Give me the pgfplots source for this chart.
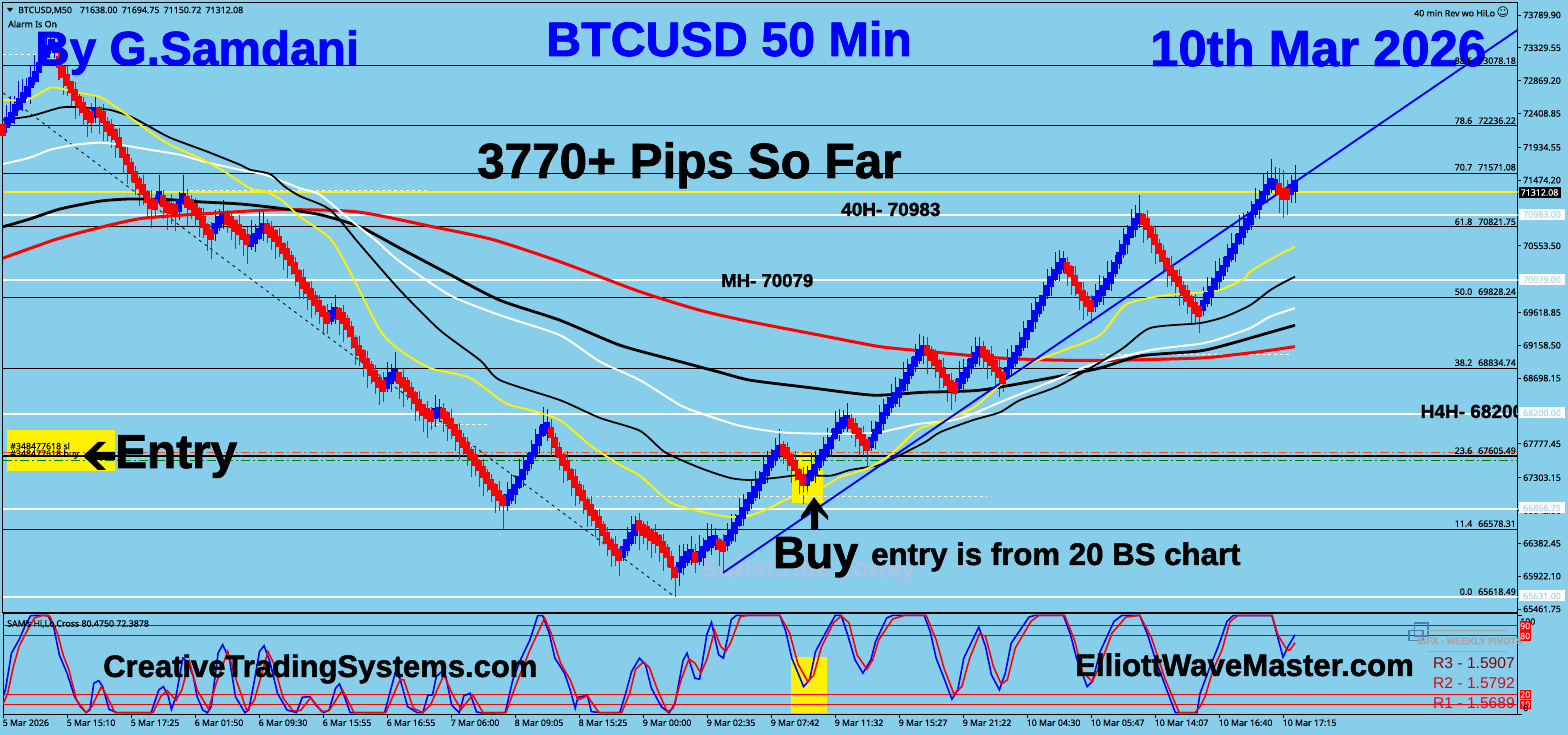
\documentclass[border=0pt]{standalone}
\usepackage{fontspec}
\usepackage{pgfplots}
\usepackage{pgfplotstable}
\pgfplotsset{compat=1.18}
\setmainfont{Noto Sans}[FakeBold=0.25]
\newfontfamily\arialf{Liberation Sans}[BoldFeatures={FakeBold=1.6}]
\newfontfamily\djv{DejaVu Sans}
\newcommand{\A}[1]{\arialf\bfseries\fontsize{#1}{#1}\selectfont}
\newcommand{\U}{\fontsize{8.8}{9}\selectfont}
\definecolor{bg}{HTML}{87CEEB}
\definecolor{tagtxt}{HTML}{ADD8E6}
\definecolor{logo}{HTML}{4682B4}
\definecolor{wm}{HTML}{A9C5E6}
\pgfplotstableread{
x p u d
7 72280 250 150
11 72350 300 120
15 72460 200 200
19 72540 320 90
23 72630 260 180
27 72720 180 130
31 72840 250 300
35 72930 300 120
39 73050 200 200
43 73160 320 90
47 73270 260 180
51 73370 180 130
55 73330 150 150
95 72420 250 150
159 71240 300 120
179 71110 200 200
183 71220 320 90
215 70800 260 180
219 70890 180 130
223 70940 250 150
251 70620 300 120
255 70660 200 200
259 70730 320 90
263 70800 260 180
331 69570 180 130
335 69610 250 150
387 68630 300 120
391 68700 200 200
395 68740 320 90
435 68200 260 180
439 68220 180 130
507 66990 250 150
511 67060 300 120
515 67140 200 200
519 67240 320 90
523 67350 260 180
527 67470 180 130
531 67580 250 150
535 67690 300 120
539 67830 200 200
543 67970 320 90
547 68000 260 180
623 66260 180 130
627 66360 250 150
631 66460 300 120
635 66570 200 200
679 66040 320 250
683 66120 260 180
687 66190 180 130
691 66230 250 150
699 66200 300 120
703 66260 200 200
707 66350 320 90
711 66400 260 180
715 66420 180 130
727 66420 250 150
731 66500 300 120
735 66600 200 200
739 66700 320 90
743 66810 260 180
747 66920 180 130
751 67020 250 150
755 67100 300 120
759 67200 200 200
763 67300 320 90
767 67410 260 180
771 67520 180 130
775 67610 250 150
779 67680 300 120
807 67270 200 200
811 67330 320 90
815 67410 260 180
819 67520 180 130
823 67620 250 150
827 67700 300 120
831 67790 200 200
835 67920 320 90
839 68000 260 180
843 68070 180 130
847 68100 250 150
871 67800 300 120
875 67900 200 200
879 68000 320 90
883 68140 260 180
887 68250 180 130
891 68360 250 150
895 68420 300 120
899 68500 200 200
903 68600 320 90
907 68700 260 180
911 68810 180 130
915 68930 250 150
919 69020 300 120
923 69090 200 200
959 68620 320 90
963 68700 260 180
967 68780 180 130
971 68900 250 150
975 68980 300 120
979 69070 200 200
1007 68780 320 90
1011 68900 260 180
1015 68980 180 130
1019 69090 250 150
1023 69200 300 120
1027 69320 200 200
1031 69430 320 90
1035 69570 260 180
1039 69680 180 130
1043 69790 250 150
1047 69930 300 120
1051 70050 200 200
1055 70150 320 90
1059 70240 260 180
1063 70300 180 130
1095 69770 250 150
1099 69850 300 120
1103 69930 200 200
1107 70020 320 90
1111 70100 260 180
1115 70240 180 130
1119 70380 250 150
1123 70500 300 120
1127 70640 200 200
1131 70750 320 90
1135 70860 260 180
1139 70940 330 130
1203 69720 250 150
1207 69820 300 120
1211 69910 200 200
1215 70020 320 90
1219 70120 260 180
1223 70210 180 130
1227 70330 250 150
1231 70440 300 120
1235 70520 200 200
1239 70660 320 90
1243 70750 260 180
1247 70860 180 130
1251 70930 250 150
1255 71060 300 120
1259 71130 200 200
1263 71240 320 90
1267 71340 260 180
1271 71430 340 130
1275 71410 250 150
1291 71340 200 180
1295 71390 300 240
}\upbars
\pgfplotstableread{
x p u d
3 72180 150 250
59 73130 150 250
63 72990 100 320
67 72880 200 220
71 72780 90 300
75 72670 180 340
79 72570 130 200
83 72490 150 250
87 72400 100 320
91 72360 200 220
99 72420 90 300
103 72360 180 340
107 72230 130 200
111 72180 150 250
115 72110 100 320
119 72000 200 220
123 71860 90 300
127 71760 180 340
131 71650 130 200
135 71520 150 250
139 71430 100 320
143 71340 200 220
147 71240 90 300
151 71150 180 340
155 71130 130 200
163 71180 150 250
167 71100 100 320
171 71080 200 220
175 71060 90 300
187 71170 180 340
191 71130 130 200
195 71070 150 250
199 71000 100 320
203 70890 200 220
207 70780 90 300
211 70710 180 340
227 70930 130 200
231 70890 150 250
235 70830 100 320
239 70780 200 220
243 70710 90 300
247 70640 180 340
267 70800 130 200
271 70750 150 250
275 70690 100 320
279 70610 200 220
283 70520 90 300
287 70440 180 340
291 70350 130 200
295 70240 150 250
299 70130 100 320
303 70030 200 220
307 69960 90 300
311 69880 180 340
315 69790 130 200
319 69710 150 250
323 69630 100 320
327 69540 200 220
339 69600 90 300
343 69540 180 340
347 69460 130 200
351 69350 150 250
355 69200 100 320
359 69090 200 220
363 69010 90 300
367 68900 180 340
371 68810 130 200
375 68730 150 250
379 68640 100 320
383 68590 200 220
399 68700 90 300
403 68640 180 340
407 68590 130 200
411 68500 150 250
415 68420 100 320
419 68320 200 220
423 68250 90 300
427 68200 180 340
431 68170 130 200
443 68200 150 250
447 68140 100 320
451 68060 200 220
455 67970 90 300
459 67890 180 340
463 67800 130 200
467 67720 150 250
471 67630 100 320
475 67550 200 220
479 67470 90 300
483 67380 180 340
487 67300 130 200
491 67210 150 250
495 67130 100 320
499 67050 200 220
503 66980 90 400
551 67940 180 340
555 67800 130 200
559 67660 150 250
563 67550 100 320
567 67470 200 220
571 67350 90 300
575 67240 180 340
579 67130 130 200
583 67050 150 250
587 66930 100 320
591 66850 200 220
595 66770 90 300
599 66680 180 340
603 66570 130 200
607 66460 150 250
611 66370 100 320
615 66290 200 220
619 66220 90 300
639 66630 180 340
643 66570 130 200
647 66540 150 250
651 66500 100 320
655 66460 200 220
659 66420 90 300
663 66330 180 340
667 66250 130 200
671 66120 150 250
675 65970 100 340
695 66180 200 220
719 66370 90 300
723 66340 180 340
783 67690 130 200
787 67650 150 250
791 67550 100 320
795 67470 200 220
799 67350 90 300
803 67270 180 340
851 68060 130 200
855 67990 150 250
859 67920 100 320
863 67830 200 220
867 67760 90 300
927 69090 180 340
931 69020 130 200
935 68950 150 250
939 68870 100 320
943 68780 200 220
947 68670 90 300
951 68590 180 340
955 68560 130 200
983 69070 150 250
987 69010 100 320
991 68950 200 220
995 68870 90 300
999 68780 180 340
1003 68700 130 200
1067 70240 150 250
1071 70190 100 320
1075 70070 200 220
1079 69960 90 300
1083 69860 180 340
1087 69770 130 200
1091 69710 150 250
1143 70920 100 320
1147 70860 200 220
1151 70750 90 300
1155 70640 180 340
1159 70520 130 200
1163 70410 150 250
1167 70300 100 320
1171 70210 200 220
1175 70130 90 300
1179 70050 180 340
1183 69930 130 200
1187 69850 150 250
1191 69770 100 320
1195 69680 200 220
1199 69630 90 300
1279 71350 300 340
1283 71280 340 340
1287 71280 200 300
}\downbars
\begin{document}
\begin{tikzpicture}
\useasboundingbox (0,0) rectangle (1568pt,735pt);
\fill[bg] (0,0) rectangle (1568pt,735pt);
\begin{scope}[x=1pt,y=-1pt,yshift=735pt]
\fill[yellow] (7,430) rectangle (115,471);
\fill[yellow] (797,452) -- (813,452) -- (813,470) -- (823,470) -- (823,503) -- (792,503) -- (792,470) -- (797,470) -- cycle;
\fill[yellow] (791,657) rectangle (827,713);
\node[anchor=base west,inner sep=0,text=wm] at (700,577) {\A{27}Subscribe Today};
\end{scope}
\begin{axis}[
 name=main, anchor=south west, at={(3pt,122.5pt)}, scale only axis,
 width=1514.5pt, height=610pt,
 xmin=3, xmax=1517.5, ymin=65412.8, ymax=73965,
 axis line style={line width=1pt},
 xtick=\empty, ytick pos=right, yticklabel pos=right, tick align=outside,
 major tick length=3pt, tick style={black,line width=.8pt},
 ytick={73789.90,73329.55,72869.20,72408.85,71934.55,71474.20,70553.50,69618.85,69158.50,68698.15,67777.45,67303.15,66842.80,66382.45,65922.10,65461.75},
 scaled y ticks=false,
 yticklabel style={font=\U,inner xsep=0pt,xshift=2.5pt,/pgf/number format/.cd,fixed,fixed zerofill,precision=2,1000 sep={},assume math mode=true},
]
% fib levels
\addplot[black,line width=1.2pt,forget plot] coordinates {(3,73078.18)(1517.5,73078.18)};
\addplot[black,line width=1.2pt,forget plot] coordinates {(3,72236.22)(1517.5,72236.22)};
\addplot[black,line width=1.2pt,forget plot] coordinates {(3,71571.08)(1517.5,71571.08)};
\addplot[black,line width=1.2pt,forget plot] coordinates {(3,70821.75)(1517.5,70821.75)};
\addplot[black,line width=1.2pt,forget plot] coordinates {(3,69828.24)(1517.5,69828.24)};
\addplot[black,line width=1.2pt,forget plot] coordinates {(3,68834.74)(1517.5,68834.74)};
\addplot[black,line width=1.2pt,forget plot] coordinates {(3,67605.49)(1517.5,67605.49)};
\addplot[black,line width=1.2pt,forget plot] coordinates {(3,66578.31)(1517.5,66578.31)};
\addplot[black,line width=1.2pt,forget plot] coordinates {(3,65618.49)(1517.5,65618.49)};
% levels
\addplot[white,line width=2.2pt,forget plot] coordinates {(3,70983)(1517.5,70983)};
\addplot[white,line width=2.2pt,forget plot] coordinates {(3,70079)(1517.5,70079)};
\addplot[white,line width=2.2pt,forget plot] coordinates {(3,68200)(1517.5,68200)};
\addplot[white,line width=2.2pt,forget plot] coordinates {(3,66866.75)(1517.5,66866.75)};
\addplot[white,line width=2.2pt,forget plot] coordinates {(3,65631)(1517.5,65631)};
\addplot[yellow,line width=2pt,forget plot] coordinates {(3,71312.08)(1517.5,71312.08)};
\addplot[orange!60!red,line width=1.2pt,dash pattern=on 9pt off 3pt on 2pt off 3pt,forget plot] coordinates {(3,67659)(1517.5,67659)};
\addplot[green!50!black,line width=1.2pt,dash pattern=on 9pt off 3pt on 2pt off 3pt,forget plot] coordinates {(3,67547)(1517.5,67547)};
% dashed
\addplot[white,line width=1pt,dash pattern=on 3pt off 3pt,forget plot] coordinates {(3,73229)(63,73229)};
\addplot[white,line width=1pt,dash pattern=on 3pt off 3pt,forget plot] coordinates {(190,71329)(428,71329)};
\addplot[white,line width=1pt,dash pattern=on 3pt off 3pt,forget plot] coordinates {(1100,69033)(1292,69033)};
\addplot[white,line width=1pt,dash pattern=on 3pt off 3pt,forget plot] coordinates {(430,68042)(490,68042)};
\addplot[white,line width=1pt,dash pattern=on 3pt off 3pt,forget plot] coordinates {(590,67040)(987,67040)};
\addplot[black,line width=.8pt,dash pattern=on 3pt off 4pt,forget plot] coordinates {(3,72696)(675,65630)};
% candles
\addplot[only marks,mark=none,forget plot,error bars/.cd,y dir=both,y explicit,error mark=none,error bar style={blue,line width=1pt}] table[x=x,y=p,y error plus=u,y error minus=d] {\upbars};
\addplot[only marks,mark=none,forget plot,error bars/.cd,y dir=both,y explicit,error mark=none,error bar style={red,line width=1pt}] table[x=x,y=p,y error plus=u,y error minus=d] {\downbars};
\addplot[only marks,mark=square*,mark size=5.2pt,mark options={solid,xscale=.55,draw=blue,fill=blue,line width=0pt},forget plot] table[x=x,y=p] {\upbars};
\addplot[only marks,mark=square*,mark size=5.2pt,mark options={solid,xscale=.55,draw=red,fill=red,line width=0pt},forget plot] table[x=x,y=p] {\downbars};
% moving averages
\addplot[red,line width=3pt,smooth,tension=.4,forget plot] coordinates {(3,70380)(55,70640)(97,70800)(143,70940)(213,71010)(280,71060)(357,71030)(433,70820)(493,70640)(560,70330)(640,69910)(700,69650)(750,69490)(820,69300)(880,69140)(930,69070)(1000,68980)(1060,68950)(1120,68950)(1200,68980)(1230,69020)(1260,69070)(1295,69140)};
\addplot[black,line width=2.8pt,smooth,tension=.4,forget plot] coordinates {(3,70820)(30,70930)(60,71070)(100,71180)(130,71210)(170,71200)(200,71170)(240,71140)(280,71080)(320,70990)(360,70820)(400,70520)(450,70150)(500,69790)(560,69510)(620,69160)(680,68930)(720,68780)(750,68670)(807,68570)(873,68460)(923,68500)(980,68530)(1050,68700)(1100,68840)(1140,69010)(1200,69080)(1230,69180)(1260,69300)(1295,69440)};
\addplot[white,line width=2pt,smooth,tension=.4,forget plot] coordinates {(3,71700)(30,71790)(50,71900)(75,71970)(100,72000)(120,71970)(150,71900)(180,71830)(205,71730)(240,71620)(265,71550)(300,71360)(320,71270)(350,70920)(375,70640)(400,70330)(450,69860)(500,69580)(560,69300)(600,68930)(640,68670)(680,68320)(700,68210)(740,68030)(780,67940)(820,67920)(860,67920)(880,67940)(900,68000)(920,68060)(950,68100)(970,68180)(1000,68360)(1060,68700)(1090,68880)(1150,69090)(1200,69180)(1220,69250)(1250,69400)(1270,69560)(1295,69680)};
\addplot[black,line width=1.8pt,smooth,tension=.4,forget plot] coordinates {(3,72320)(30,72370)(60,72490)(75,72500)(100,72470)(110,72460)(130,72370)(145,72260)(170,72070)(208,71870)(240,71690)(250,71620)(270,71560)(285,71380)(300,71250)(330,71060)(360,70570)(400,69930)(440,69370)(480,68950)(500,68670)(560,68390)(600,68140)(640,67960)(665,67660)(700,67440)(730,67300)(750,67270)(775,67300)(800,67340)(830,67330)(850,67410)(880,67480)(890,67550)(925,67800)(940,67940)(973,68110)(1000,68220)(1020,68390)(1060,68600)(1120,69090)(1150,69400)(1200,69470)(1225,69560)(1250,69720)(1270,69930)(1285,70050)(1295,70120)};
\addplot[yellow,line width=1.9pt,smooth,tension=.4,forget plot] coordinates {(3,72600)(27,72600)(50,72770)(63,72750)(78,72700)(100,72640)(120,72460)(140,72250)(150,72150)(170,71970)(200,71780)(225,71590)(250,71360)(267,71310)(283,71180)(300,70960)(330,70660)(350,70190)(380,69370)(400,69090)(430,68840)(470,68700)(505,68350)(530,68250)(560,68110)(590,67760)(620,67480)(640,67330)(670,66960)(695,66850)(720,66770)(735,66750)(750,66770)(770,66880)(785,66990)(800,67060)(823,67170)(840,67310)(867,67430)(890,67620)(917,67970)(937,68070)(973,68280)(1000,68600)(1030,68900)(1060,69070)(1100,69300)(1125,69720)(1160,69850)(1210,69910)(1225,69960)(1245,70100)(1250,70190)(1275,70400)(1295,70540)};
\addplot[blue,line width=1.9pt,forget plot] coordinates {(723,65970)(1517.5,73580)};
\end{axis}
\begin{axis}[
 name=osc, anchor=south west, at={(3pt,20.7pt)}, scale only axis,
 width=1514.5pt, height=100.3pt,
 xmin=3, xmax=1517.5, ymin=0, ymax=101.4,
 axis line style={line width=1pt},
 xtick={3,67,131,195,259,323,387,451,515,579,643,707,771,835,899,963,1027,1091,1155,1219,1283},
 xticklabels={5 Mar 2026,5 Mar 15:10,5 Mar 17:25,6 Mar 01:50,6 Mar 09:30,6 Mar 15:55,6 Mar 16:55,7 Mar 06:00,8 Mar 09:05,8 Mar 15:25,9 Mar 00:00,9 Mar 02:35,9 Mar 07:42,9 Mar 11:32,9 Mar 15:27,9 Mar 21:22,10 Mar 04:30,10 Mar 05:47,10 Mar 14:07,10 Mar 16:40,10 Mar 17:15},
 xtick pos=bottom, ytick pos=right, tick align=outside,
 major tick length=4pt, tick style={black,line width=.8pt},
 ytick={0,100}, yticklabels={},
 xticklabel style={font=\U,anchor=north west,inner sep=0pt,xshift=-.5pt,yshift=-1pt},
]
\addplot[red!80!black,line width=1pt,forget plot] coordinates {(3,90)(1517.5,90)};
\addplot[red!80!black,line width=1pt,forget plot] coordinates {(3,80)(1517.5,80)};
\addplot[red,line width=1.2pt,forget plot] coordinates {(3,20)(1517.5,20)};
\addplot[red,line width=1.2pt,forget plot] coordinates {(3,10)(1517.5,10)};
\addplot[blue,line width=1.6pt,forget plot] coordinates {(3,17.9)(5.4,24.7)(11.5,61.9)(19.1,75.4)(24.9,88.9)(30.6,99.7)(38.3,100)(47.8,100)(53.6,88.9)(59.3,60.2)(67,41.6)(74.6,17.9)(80.4,7.8)(86.1,1.7)(89.9,4.4)(93.8,31.4)(98.7,34.1)(102.6,28)(109.1,5)(116.7,1.7)(151.2,1.7)(158.8,24.7)(163.4,28)(168.4,17.9)(171.4,5)(176,17.9)(182.9,56.8)(187.5,53.4)(193.3,38.2)(197.1,17.9)(202.8,4.4)(207.4,1.5)(211.2,7.8)(218.1,61.9)(222.7,70.3)(229.6,55.1)(235.4,17.9)(244.9,1.7)(248.8,4.4)(254.5,34.8)(259.5,63.5)(264.1,69.3)(269.8,53.4)(277.5,21.3)(287,4.4)(296.6,1.7)(302.3,17.2)(310,17.9)(315.7,9.5)(323.4,1.7)(329.1,4.4)(335.6,26.4)(339.5,30.8)(344.4,17.9)(350.2,1.7)(384.6,1.7)(395.3,42.3)(399.9,36.5)(407.6,7.8)(417.1,1.7)(422.9,1.7)(427.9,19.3)(432.5,19.6)(436.3,38.2)(442,43.3)(445.8,38.2)(451.6,9.5)(459.2,1.5)(463.8,18.6)(470,21.3)(476.5,2.4)(481.4,1.5)(505.2,1.7)(512.8,34.8)(520.5,55.1)(530,75.4)(537.7,99.7)(542.7,99.7)(549.2,82.1)(554.9,56.8)(564.5,41.6)(570.2,24.7)(575.2,6.1)(577.9,17.2)(587.4,19.3)(591.3,2.7)(600,1.7)(619.8,1.7)(625.7,21.3)(631.6,43.3)(639.5,56.8)(645.5,50)(651.4,26.4)(661.3,7.8)(669.2,1.5)(675.1,11.2)(683,54.4)(687,61.9)(694.9,36.5)(699.6,35.5)(706.8,80.5)(711.5,93)(718.6,60.2)(723.4,56.8)(731.3,95.8)(736.4,100)(779.9,100)(785.8,83.5)(791.8,56.8)(803.6,28)(809.6,34.8)(815.5,63.5)(825.4,82.1)(835.3,100)(841.2,100)(847.1,82.1)(855,55.1)(862.9,41.6)(870.9,55.1)(875.6,73.7)(886.7,97.4)(892.6,100)(924.2,100)(930.2,83.5)(936.1,56.8)(944,36.5)(951.9,15.2)(957.8,24.7)(963.8,56.8)(978.8,88.2)(985.5,68.6)(991.4,39.9)(999.4,24.7)(1005.3,41.6)(1011.2,72)(1029,98.3)(1034.9,100)(1063.4,100)(1070.5,80.5)(1076.5,56.8)(1087.1,28)(1092.3,33.1)(1100.2,63.5)(1114,94)(1121.9,100)(1139.7,100)(1147.6,80.5)(1155.5,55.1)(1175.3,1.7)(1197,1.7)(1200,21)(1210,48)(1218,68)(1227,94)(1233,99.7)(1272,99.7)(1283,57.6)(1288,68.4)(1295,80.475)};
\addplot[red,line width=1.6pt,forget plot] coordinates {(3,10.1)(7.7,21.3)(13.4,48.3)(19.1,68.6)(26.8,83.8)(34.4,97.3)(42.1,100)(49.8,99)(57.4,82.1)(63.1,60.2)(68.9,45)(76.5,14.5)(86.1,1.7)(91.8,7.8)(101.4,28)(107.2,17.9)(114.8,1.7)(153.1,1.7)(160.7,17.9)(167.2,24)(176,13.9)(181.8,24.7)(189.4,53.4)(197.1,24.7)(208.6,5)(216.2,31.4)(227.7,63.5)(237.3,31.4)(246.8,3.7)(254.5,14.5)(267.9,63.5)(273.6,51.7)(283.2,16.2)(292.8,3.7)(300.4,3.7)(310.8,16.9)(321.5,2.7)(329.1,3.7)(342.5,24.7)(354,1.7)(385.8,1.7)(399.9,34.8)(403.8,34.8)(413.3,6.1)(422.9,1.7)(430.5,9.5)(443.9,39.9)(453.5,17.9)(461.2,5)(472.6,19.6)(483,1.7)(505.9,1.7)(516.6,31.4)(530,65.2)(544.6,97.3)(551.1,82.1)(560.6,51.7)(570.2,34.8)(577.9,14.5)(587.4,18.6)(598.9,1.7)(621.7,1.7)(629.7,21.3)(635.6,45.6)(643.5,53)(649.4,47.3)(657.3,25.3)(667.2,2.7)(673.1,6.1)(681.1,34.8)(689,56.1)(694.9,51.7)(700.8,41.6)(706.8,55.1)(714.7,84.9)(720.6,68.6)(725.7,63.5)(730.5,72)(740.4,98.9)(748.3,100)(779.9,100)(789.8,81.8)(797.7,51.4)(807.6,33.5)(813.5,39.2)(821.4,67.9)(833.3,92.3)(841.2,99.4)(849.1,92.3)(857,60.2)(866.9,45.6)(872.8,55.1)(878.8,75.4)(892.6,96.3)(904.5,100)(926.2,100)(936.1,75.4)(944,46.6)(953.9,20.6)(961.8,28)(969.7,56.8)(979.6,81.5)(985.5,78.9)(993.4,48.3)(1001.3,30.4)(1007.3,34.8)(1015.2,66.9)(1031,94)(1038.9,100)(1064.6,100)(1074.5,75)(1082.4,42.9)(1092.3,33.1)(1100.2,50)(1112,82.1)(1125.9,98.3)(1139.7,100)(1151.6,77)(1165.4,34.8)(1179.2,1.7)(1195,1.7)(1200,7.6)(1205,17.7)(1213,44.8)(1222,65)(1230,93.7)(1238,100)(1272,100)(1278,80)(1287,65)(1290,65)(1295,72.39)};
\end{axis}
\begin{scope}[x=1pt,y=-1pt,yshift=735pt,every node/.style={inner sep=0pt}]
% big titles
\node[anchor=base west,text=blue] at (35,65) {\A{47.8}By G.Samdani};
\node[anchor=base west,text=blue] at (546,56) {\A{48.4}BTCUSD 50 Min};
\node[anchor=base west,text=blue] at (1150,66) {\A{50.8}10th Mar 2026};
\node[anchor=base west] at (477,178) {\A{49.4}3770+ Pips So Far};
\node[anchor=base west] at (841,216) {\A{19}40H- 70983};
\node[anchor=base west] at (721,287) {\A{18.6}MH- 70079};
\begin{scope}
\clip (1400,400) rectangle (1517,430);
\node[anchor=base west] at (1420.5,418) {\A{19}H4H- 68200};
\end{scope}
\node[anchor=base west] at (115,468) {\A{47.7}Entry};
\fill[black] (83,456) -- (98,442) -- (106,442) -- (96,452) -- (115,452) -- (115,460) -- (96,460) -- (106,470) -- (98,470) -- cycle;
\fill[black] (814,497) -- (828,516) -- (828,520) -- (818,511) -- (818,530) -- (811,530) -- (811,511) -- (801,520) -- (801,516) -- cycle;
\node[anchor=base west] at (773,568) {\A{45}Buy};
\node[anchor=base west] at (871,565) {\A{31.2}entry is from 20 BS chart};
\node[anchor=base west] at (103,677) {\A{31}CreativeTradingSystems.com};
\node[anchor=base west] at (1075,676) {\A{31.2}ElliottWaveMaster.com};
% small UI text
\fill[black] (7,8) -- (13,8) -- (10,12) -- cycle;
\node[anchor=west] at (18,10.5) {\U BTCUSD,M50\hspace{8pt}71638.00\hspace{2pt} 71694.75\hspace{2pt} 71150.72\hspace{2pt} 71312.08};
\node[anchor=west] at (8,24) {\U Alarm Is On};
\node[anchor=west] at (1414,12) {\U 40 min Rev wo HiLo\,{\djv\fontsize{12}{12}\selectfont ☺}};
\node[anchor=west] at (7,624) {\U SAM's Hi,Lo,Cross 80.4750 72.3878};
\foreach \a/\b/\c in {88.6/73078.18/60.7,78.6/72236.22/120.7,70.7/71571.08/167.3,61.8/70821.75/221.7,50.0/69828.24/291.7,38.2/68834.74/362.7,23.6/67605.49/450.7,11.4/66578.31/523.7,0.0/65618.49/591.7}
  \node[anchor=east] at (1516,\c) {\U\a\hspace{6pt}\b};
% price tags
\fill[black] (1519,187) rectangle (1561,198);
\node[anchor=west,text=white] at (1520.5,192.5) {\U 71312.08};
\foreach \t/\c in {70983.00/214.5,70079.00/279.7,68200.00/413,66866.75/508,65631.00/596}{
  \fill[white] (1519,\c-5.5) rectangle (1565,\c+5.5);
  \node[anchor=west,text=tagtxt] at (1523,\c) {\U\t};
}
% oscillator labels
\node[anchor=west] at (1520,621.5) {\U 100};
\foreach \t/\c in {90/626,80/636,20/694.5,10/704.5}{
  \fill[red] (1519.5,\c-4.7) rectangle (1531,\c+4.7);
  \node[text=white!85!red] at (1525.2,\c) {\U\t};
}
\node[anchor=west] at (1523,708) {\U 0};
% ibfx logo
\draw[logo,line width=1.6pt] (1414.5,623) rectangle (1428,636);
\draw[logo,line width=1.6pt] (1409,630.5) rectangle (1423,640.5);
\draw[gray!70,line width=.7pt] (1427,630.5) -- (1507,630.5);
\draw[gray!70,line width=.7pt] (1427,651.5) -- (1507,651.5);
\node[anchor=west,text=gray!70] at (1417,641) {\arialf\bfseries\fontsize{9.3}{10}\selectfont IBFX - WEEKLY PIVOTS};
\node[anchor=base west,text=red!55!black] at (1433,669) {\arialf\fontsize{15.6}{16}\selectfont R3 - 1.5907};
\node[anchor=base west,text=purple!30!red] at (1433,689) {\arialf\fontsize{15.6}{16}\selectfont R2 - 1.5792};
\node[anchor=base west,text=purple!30!red] at (1433,709) {\arialf\fontsize{15.6}{16}\selectfont R1 - 1.5689};
% entry box text
\node[anchor=west] at (10,446) {\U\#348477618 sl};
\node[anchor=west] at (10,454.5) {\U\#348477618 buy};
\end{scope}
\end{tikzpicture}
\end{document}
